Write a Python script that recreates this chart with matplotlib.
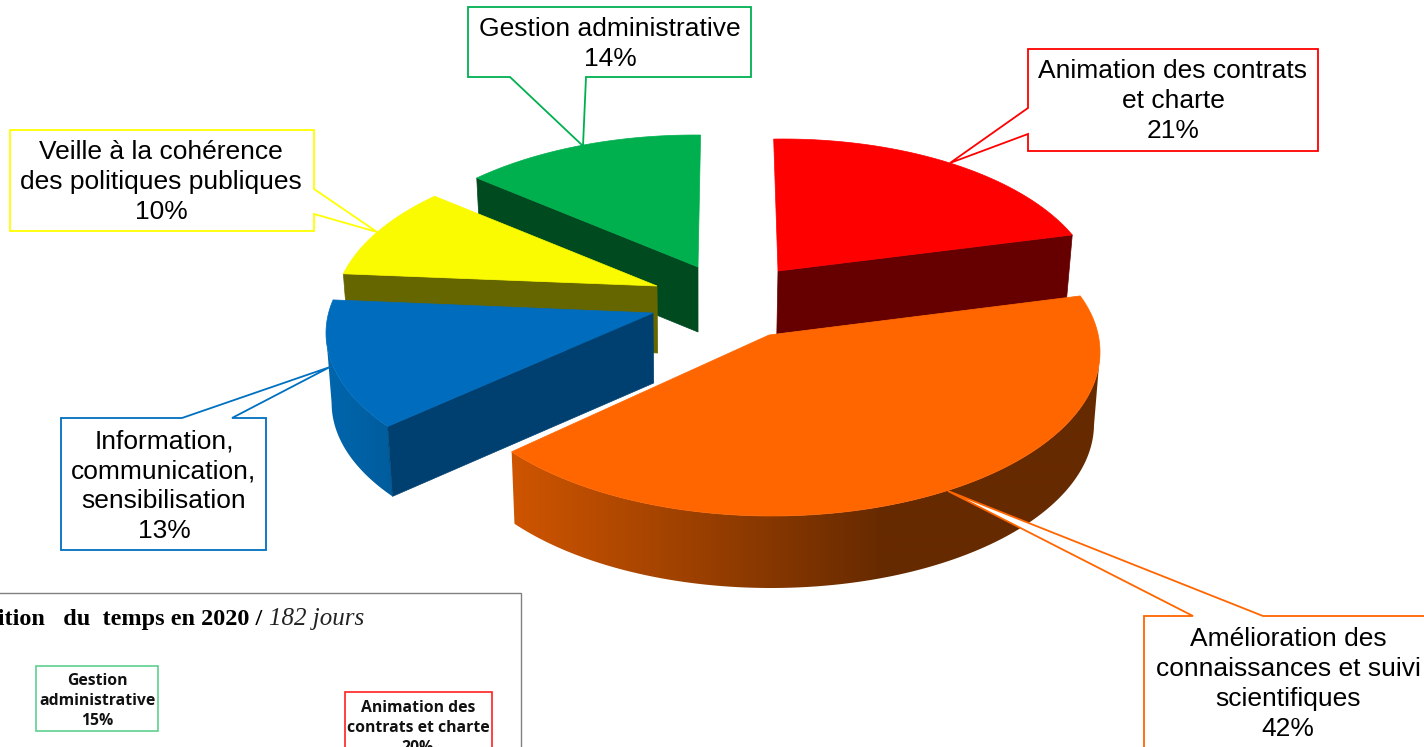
import numpy as np
import matplotlib
matplotlib.use('Agg')
import matplotlib.pyplot as plt
from matplotlib.patches import Polygon, Rectangle
from matplotlib.colors import to_rgb

# donnees du camembert
labels = ['Animation des contrats\net charte', 'Amélioration des\nconnaissances et suivi\nscientifiques',
          'Information,\ncommunication,\nsensibilisation', 'Veille à la cohérence\ndes politiques publiques',
          'Gestion administrative']
values = [21, 42, 13, 10, 14]
colors = ['#ff0000', '#ff6600', '#006cbd', '#fafa00', '#00b04f']
face_colors = ['#660000', '#662a00', '#004070', '#666600', '#004a20']

# inset du bas a gauche
inset_labels = ['Gestion\nadministrative', 'Animation des\ncontrats et charte']
inset_values = [15, 20]

# position de chaque part en pixels : sommet, centre/rayons de l'ellipse, angle de depart, etirement perspective
apex = [(778, 271), (769, 335), (653, 313), (657, 286), (698, 267)]
centers = [(783, 296), (772, 352), (641, 333), (649, 312), (695, 295)]
radii = [(314, 157), (328, 164), (315, 157), (315, 158), (320, 160)]
starts = [91.7, 20.0, -143.5, 166.0, 133.0]
stretch = [0.91, 1.075, 1.04, 0.92, 0.873]
depths = [63, 72, 70, 67, 65]
face_at = ['end', None, 'start', 'start', 'start']
order = [4, 3, 0, 2, 1]
# degrade du mur exterieur : couleur gauche, couleur droite, x debut, x fin
wall_grad = {1: ('#cf5500', '#662a00', 511, 885), 2: ('#0066ad', '#005c9c', 326, 395)}

W, H = 1424, 747
fig = plt.figure(figsize=(W/100, H/100), dpi=100)
ax = fig.add_axes([0, 0, 1, 1])


def down(x, y, d):
    # le bas de la part se resserre un peu vers le milieu
    return x + (700 - x)*0.015, y + d


for i in order:
    span = values[i]*3.6*stretch[i]
    t = np.radians(np.linspace(starts[i], starts[i] - span, 200))
    ex = centers[i][0] + radii[i][0]*np.cos(t)
    ey = centers[i][1] - radii[i][1]*np.sin(t)
    d = depths[i]
    # mur exterieur avec degrade horizontal, seulement la moitie avant de l'ellipse
    if i in wall_grad:
        c0, c1, x0, x1 = wall_grad[i]
        xs = np.arange(0, W)
        s = np.clip((xs - x0)/(x1 - x0), 0, 1)[:, None]
        rgb = (np.array(to_rgb(c0))*(1 - s) + np.array(to_rgb(c1))*s)[None, :, :]
        front = np.sin(t) <= 0
        bx, by = down(ex[front], ey[front], d)
        wall = Polygon(list(zip(ex[front], ey[front])) + list(zip(bx, by))[::-1], closed=True, transform=ax.transData)
        im = ax.imshow(rgb, extent=(0, W, H, 0), aspect='auto', zorder=2, interpolation='bilinear')
        im.set_clip_path(wall)
    # face coupee
    if face_at[i]:
        k = 0 if face_at[i] == 'start' else -1
        p = (ex[k], ey[k])
        ax.add_patch(Polygon([apex[i], p, down(p[0], p[1], d), down(apex[i][0], apex[i][1], d)],
                             closed=True, fc=face_colors[i], ec=face_colors[i], lw=0.5, zorder=2))
    top = [apex[i]] + list(zip(ex, ey))
    ax.add_patch(Polygon(top, closed=True, fc=colors[i], ec=colors[i], lw=0.5, zorder=2))

# bulles de texte
edge = ['#ff0000', '#ff6600', '#0070c0', '#ffff00', '#00b050']
bubbles = [
    [(1028, 49), (1318, 49), (1318, 151), (1028, 151), (1028, 134), (950, 163), (1028, 108)],
    [(1144, 616), (1193, 616), (948, 491), (1263, 616), (1440, 616), (1440, 760), (1144, 760)],
    [(61, 418), (182, 418), (330, 367), (232, 418), (266, 418), (266, 550), (61, 550)],
    [(10, 130), (314, 130), (314, 189), (377, 232), (314, 214), (314, 231), (10, 231)],
    [(468, 7), (751, 7), (751, 77), (586, 77), (583, 146), (510, 77), (468, 77)],
]
text_pos = [(1173, 101), (1288, 684), (164, 486), (161, 182), (610, 44)]
for i in range(5):
    ax.add_patch(Polygon(bubbles[i], closed=True, fc='white', ec=edge[i], lw=1.3, zorder=3))
    ax.text(text_pos[i][0], text_pos[i][1], '%s\n%d%%' % (labels[i], values[i]), ha='center', va='center',
            family='Liberation Sans', fontsize=19, linespacing=1.31, color='black', zorder=4)

# inset
ax.add_patch(Rectangle((-5, 593), 526, 170, fc='white', ec='#808080', lw=1, zorder=3))
ax.text(262, 625.5, 'Répartition   du  temps en 2020 /', ha='right', va='baseline', family='Liberation Serif',
        fontweight='bold', fontsize=17.5, zorder=4)
ax.text(269, 625.5, '182 jours', ha='left', va='baseline', family='Liberation Serif', style='italic',
        fontsize=18, color='#222222', zorder=4)
inset_boxes = [(36, 666, 122, 65), (345, 692, 147, 70)]
inset_edges = ['#5fd08f', '#ff2020']
inset_text = [(97, 701), (418, 728)]
for i in range(2):
    x, y, w, h = inset_boxes[i]
    ax.add_patch(Rectangle((x, y), w, h, fc='white', ec=inset_edges[i], lw=1.2, zorder=4))
    ax.text(inset_text[i][0], inset_text[i][1], '%s\n%d%%' % (inset_labels[i], inset_values[i]), ha='center',
            va='center', family='Open Sans', fontweight='bold', fontsize=11.3, linespacing=1.3, color='#111111', zorder=5)

ax.set_xlim(0, W)
ax.set_ylim(H, 0)
ax.axis('off')
fig.savefig('out.png', dpi=100)
